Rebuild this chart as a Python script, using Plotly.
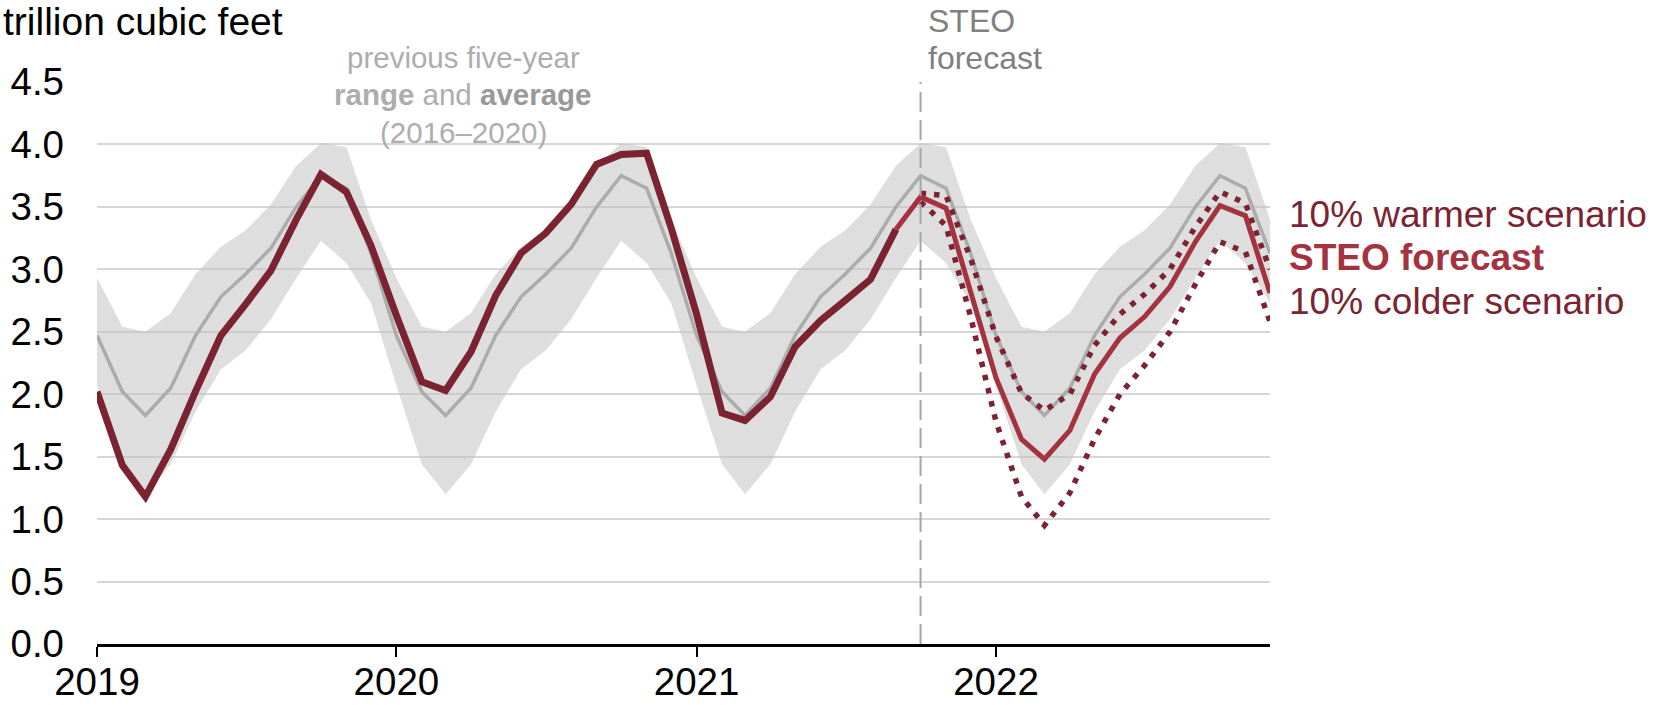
import pandas as pd
import plotly.graph_objects as go

# ---- data (trillion cubic feet, end-of-month working gas in storage) ----
months = pd.date_range("2019-01-01", "2022-12-01", freq="MS")

# previous five-year (2016-2020) monthly range and average, Jan..Dec
avg_5yr = [2.47, 2.02, 1.83, 2.05, 2.47, 2.78, 2.96, 3.17, 3.50, 3.75, 3.65, 3.13]
max_5yr = [2.93, 2.54, 2.50, 2.65, 2.96, 3.18, 3.31, 3.52, 3.83, 4.01, 3.98, 3.40]
min_5yr = [2.07, 1.44, 1.20, 1.44, 1.86, 2.20, 2.35, 2.60, 2.93, 3.23, 3.05, 2.73]

# historical, Jan 2019 - Sep 2021
history = [2.02, 1.43, 1.18, 1.56, 2.02, 2.47, 2.72, 2.99, 3.40, 3.76, 3.62, 3.19,
           2.63, 2.10, 2.03, 2.34, 2.79, 3.13, 3.29, 3.52, 3.84, 3.92, 3.93, 3.33,
           2.64, 1.85, 1.79, 1.98, 2.38, 2.59, 2.75, 2.92, 3.32]
# STEO forecast, Sep 2021 - Dec 2022
forecast = [3.32, 3.58, 3.49, 2.82, 2.13, 1.64, 1.48, 1.71, 2.16, 2.45, 2.62, 2.86,
            3.22, 3.51, 3.43, 2.81]
# scenarios, Oct 2021 - Dec 2022
warmer = [3.61, 3.59, 3.09, 2.46, 2.01, 1.87, 2.00, 2.39, 2.64, 2.80, 3.00, 3.34,
          3.62, 3.53, 3.00]
colder = [3.54, 3.35, 2.62, 1.78, 1.18, 0.95, 1.21, 1.64, 2.00, 2.23, 2.50, 2.88,
          3.22, 3.14, 2.58]

year_ticks = ["2019-01-01", "2020-01-01", "2021-01-01", "2022-01-01"]
year_labels = ["2019", "2020", "2021", "2022"]
forecast_start = "2021-10-01"

# ---- layout helpers ----
W, H = 1654, 705
L, R, T, B = 97, 384, 82, 61
FONT = "Liberation Sans, Arial, sans-serif"
DARK = "#7B2331"
RED = "#A5333F"
TICK_SIZE = 38.5

n_years = len(months) // 12
fig = go.Figure()

fig.add_trace(go.Scatter(x=months, y=min_5yr * n_years, mode="lines",
                         line=dict(width=0, color="rgba(0,0,0,0)"),
                         hoverinfo="skip", showlegend=False))
fig.add_trace(go.Scatter(x=months, y=max_5yr * n_years, mode="lines",
                         line=dict(width=0, color="rgba(0,0,0,0)"),
                         fill="tonexty", fillcolor="rgba(195,195,195,0.55)",
                         hoverinfo="skip", showlegend=False))
fig.add_trace(go.Scatter(x=months, y=avg_5yr * n_years, mode="lines",
                         line=dict(width=3.5, color="#ABABAB"), showlegend=False))
fig.add_trace(go.Scatter(x=months[:len(history)], y=history, mode="lines",
                         line=dict(width=7, color=DARK), showlegend=False))
fig.add_trace(go.Scatter(x=months[len(months) - len(warmer):], y=warmer, mode="lines",
                         line=dict(width=5.5, color=DARK, dash="5.5px,8px"), showlegend=False))
fig.add_trace(go.Scatter(x=months[len(months) - len(colder):], y=colder, mode="lines",
                         line=dict(width=5.5, color=DARK, dash="5.5px,8px"), showlegend=False))
fig.add_trace(go.Scatter(x=months[len(months) - len(forecast):], y=forecast, mode="lines",
                         line=dict(width=5, color=RED), showlegend=False))

fig.add_shape(type="line", xref="x", yref="y", x0=forecast_start, x1=forecast_start,
              y0=0, y1=4.5, line=dict(color="#A6A6A6", width=2, dash="20px,8px"))


def px(xp):
    return (xp - L) / (W - L - R)


def py(yp):
    return (H - B - yp) / (H - T - B)


annos = [
    dict(text="trillion cubic feet", x=px(1), y=py(21), xanchor="left", size=39, color="#000000"),
    dict(text="previous five-year", x=px(463), y=py(58), xanchor="center", size=29.5, color="#ADADAD"),
    dict(text="<b>range</b> and <span style='color:#999999'><b>average</b></span>", x=px(463), y=py(95),
         xanchor="center", size=29.5, color="#ADADAD"),
    dict(text="(2016–2020)", x=px(463), y=py(132), xanchor="center", size=29.5, color="#ADADAD"),
    dict(text="STEO", x=px(926), y=py(21), xanchor="left", size=32, color="#808080"),
    dict(text="forecast", x=px(926), y=py(58), xanchor="left", size=32, color="#808080"),
    dict(text="10% warmer scenario", x=px(1287), y=py(214), xanchor="left", size=37, color=DARK),
    dict(text="<b>STEO forecast</b>", x=px(1287), y=py(257), xanchor="left", size=37, color=RED),
    dict(text="10% colder scenario", x=px(1287), y=py(301), xanchor="left", size=37, color=DARK),
]
for a in annos:
    fig.add_annotation(text=a["text"], x=a["x"], y=a["y"], xref="paper", yref="paper",
                       xanchor=a["xanchor"], yanchor="middle", showarrow=False,
                       font=dict(family=FONT, size=a["size"], color=a["color"]))

fig.update_layout(
    width=W, height=H,
    margin=dict(l=L, r=R, t=T, b=B, pad=0, autoexpand=False),
    paper_bgcolor="white", plot_bgcolor="white",
    font=dict(family=FONT, size=TICK_SIZE, color="#000000"),
    showlegend=False,
    xaxis=dict(type="date", range=[months[0], months[-1]], automargin=False,
               tickvals=year_ticks, ticktext=year_labels,
               ticks="outside", ticklen=10, tickwidth=2, tickcolor="#000000",
               showline=True, linecolor="#000000", linewidth=2.5,
               showgrid=False, zeroline=False,
               tickfont=dict(family=FONT, size=TICK_SIZE, color="#000000"),
               ticklabelstandoff=-8),
    yaxis=dict(range=[0, 4.5], dtick=0.5, tick0=0, tickformat=".1f", automargin=False,
               showgrid=True, gridcolor="#D6D6D6", gridwidth=1.5,
               zeroline=False, showline=False, ticks="",
               tickfont=dict(family=FONT, size=TICK_SIZE, color="#000000"),
               ticklabelstandoff=32),
)

fig.write_html("out.html", config={"displayModeBar": False},
               post_script="document.body.style.margin='0';document.body.style.overflow='hidden';")
